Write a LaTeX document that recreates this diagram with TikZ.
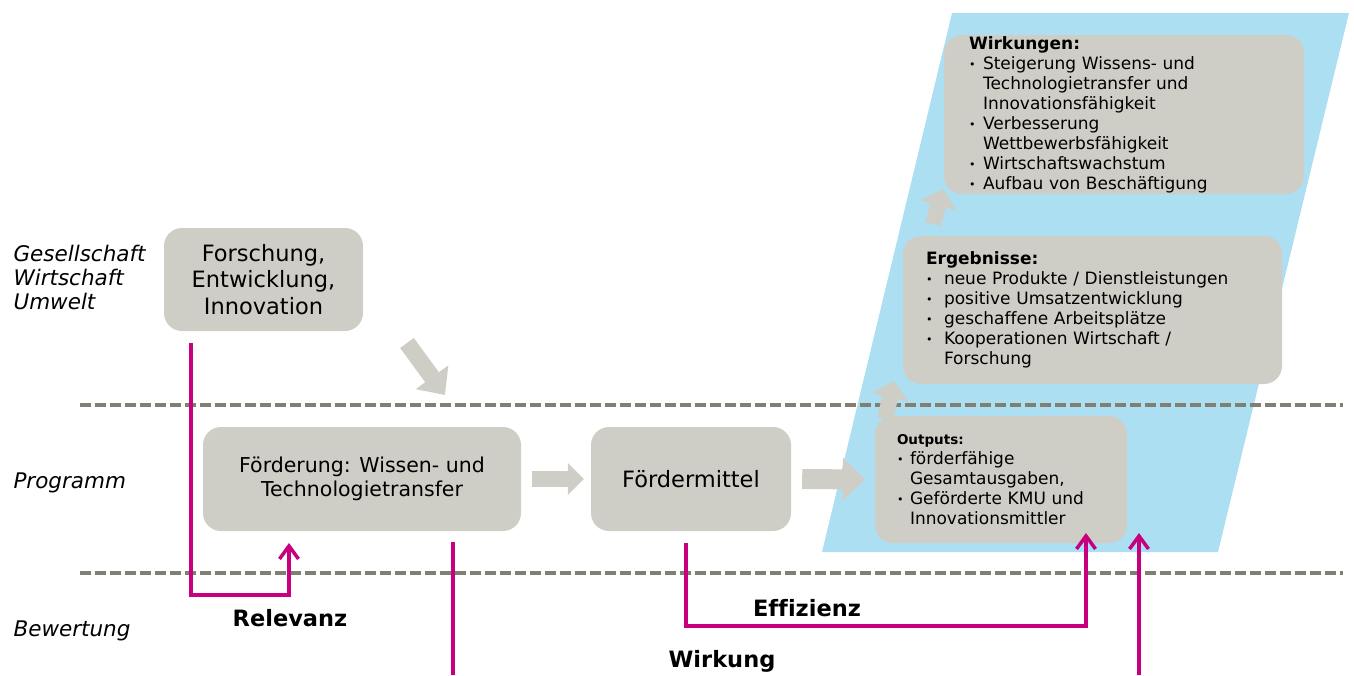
\documentclass[tikz,border=0pt]{standalone}
\usepackage{fontspec}
\setmainfont{DejaVu Sans}[Ligatures=CommonOff]
\usetikzlibrary{arrows.meta}

\definecolor{kasten}{RGB}{207,206,198}
\definecolor{himmel}{RGB}{173,223,243}
\definecolor{pink}{RGB}{198,0,126}
\definecolor{strich}{RGB}{128,128,112}

\newcommand{\pkt}[1][14pt]{\makebox[#1][l]{\raisebox{1pt}{\fontsize{11}{11}\selectfont •}}}
\newcommand{\einr}[1][14pt]{\hspace*{#1}}

\begin{document}
\begin{tikzpicture}[x=1pt, y=-1pt,
    text centered,
	block/.style={
	  rectangle,
	  rounded corners=18pt,
	  fill=kasten,
	  align=center,
	  font=\fontsize{20.5}{24}\selectfont
	},
	liste/.style={
	  block,
	  align=left,
	  inner ysep=0pt,
	  font=\fontsize{17}{20}\selectfont
	},
	ebene/.style={
	  anchor=west,
	  align=left,
	  font=\fontsize{21.5}{24}\selectfont\itshape
	},
	kriterium/.style={font=\fontsize{22.5}{26}\selectfont\bfseries},
	trenner/.style={draw=strich, line width=4pt, dash pattern=on 11pt off 4pt},
	pfeil/.style={draw=kasten, line width=16pt, -{Triangle[length=17pt, width=37pt]}},
 	mline/.style={draw=pink, line width=3.5pt, -{Straight Barb[length=13pt, width=19pt]}}
	]
	\useasboundingbox (0, 0) rectangle (1354, 675);
	% Wirkungsbereich
	\fill [himmel] (952, 13) -- (1349, 13) -- (1218, 552) -- (822, 552) -- cycle;
	\draw [trenner] (80, 405) -- (1343, 405);
	\draw [trenner] (80, 573) -- (1343, 573);

	\node at (10, 277) [ebene] (gesellschaft) {Gesellschaft\\Wirtschaft\\Umwelt};
	\node at (10, 483) [ebene] (programm) {Programm};
	\node at (10, 631) [ebene] (bewertung) {Bewertung};

	\node at (263.5, 279.5) [block, minimum width=199pt, minimum height=103pt, font=\fontsize{22.5}{26.5}\selectfont] (forschung) {Forschung,\\Entwicklung,\\Innovation};
	\node at (362, 479) [block, minimum width=318pt, minimum height=104pt] (foerderung) {Förderung: Wissen- und\\Technologietransfer};
	\node at (691, 479) [block, minimum width=200pt, minimum height=104pt, font=\fontsize{22.5}{26}\selectfont] (mittel) {Fördermittel};

	\node at (1001, 479.5) [liste, inner xsep=22pt, text width=208pt, minimum height=127pt] (outputs) {%
	  {\fontsize{13.5}{20}\selectfont\bfseries Outputs:}\\
	  \pkt[13pt]förderfähige\\
	  \einr[13pt]Gesamtausgaben,\\
	  \pkt[13pt]Geförderte KMU und\\
	  \einr[13pt]Innovationsmittler};
	\node at (1092.5, 310) [liste, inner xsep=23pt, text width=333pt, minimum height=148pt] (ergebnisse) {%
	  {\bfseries Ergebnisse:}\\
	  \pkt[18pt]neue Produkte / Dienstleistungen\\
	  \pkt[18pt]positive Umsatzentwicklung\\
	  \pkt[18pt]geschaffene Arbeitsplätze\\
	  \pkt[18pt]Kooperationen Wirtschaft /\\
	  \einr[18pt]Forschung};
	\node at (1124, 114.5) [liste, inner xsep=25pt, text width=310pt, minimum height=159pt] (wirkungen) {%
	  {\bfseries Wirkungen:}\\
	  \pkt Steigerung Wissens- und\\
	  \einr Technologietransfer und\\
	  \einr Innovationsfähigkeit\\
	  \pkt Verbesserung\\
	  \einr Wettbewerbsfähigkeit\\
	  \pkt Wirtschaftswachstum\\
	  \pkt Aufbau von Beschäftigung};

	% graue Pfeile
	\coordinate (diagA) at (407, 343);
	\coordinate (diagB) at (445, 395);
	\coordinate (hochA) at (885, 419);
	\coordinate (hochB) at (894, 381);
	\coordinate (hochC) at (933, 224);
	\coordinate (hochD) at (943, 189);
	\path [pfeil, line width=17pt, -{Triangle[length=22pt, width=39pt]}] (diagA) -- (diagB);
	\path [pfeil, -{Triangle[length=16pt, width=31pt]}] ([xshift=11pt]foerderung.east) -- ([xshift=-7pt]mittel.west);
	\path [pfeil, line width=20pt, -{Triangle[length=22pt, width=42pt]}] ([xshift=11pt]mittel.east) -- ([xshift=-10pt]outputs.west);
	\path [pfeil] (hochA) -- (hochB);
	\path [pfeil] (hochC) -- (hochD);

	% Bewertung
	\coordinate (relstart) at (191, 343);
	\coordinate (relziel) at (289, 543);
	\coordinate (effstart) at (686, 543);
	\coordinate (effziel) at (1086, 533);
	\coordinate (wirkstart) at (453, 542);
	\coordinate (wirkende) at (453, 675);
	\coordinate (wirkanfang) at (1139, 675);
	\coordinate (wirkziel) at (1139, 533);
	\path [mline] (relstart) -- ++(0, 252) -| (relziel);
	\path [mline] (effstart) -- ++(0, 83) -| (effziel);
	\path [mline, -] (wirkstart) -- (wirkende);
	\path [mline] (wirkanfang) -- (wirkziel);

	\node at (290, 618) [kriterium] (relevanz) {Relevanz};
	\node at (807, 608) [kriterium] (effizienz) {Effizienz};
	\node at (722, 661) [kriterium] (wirkung) {Wirkung};
  \end{tikzpicture}
\end{document}
